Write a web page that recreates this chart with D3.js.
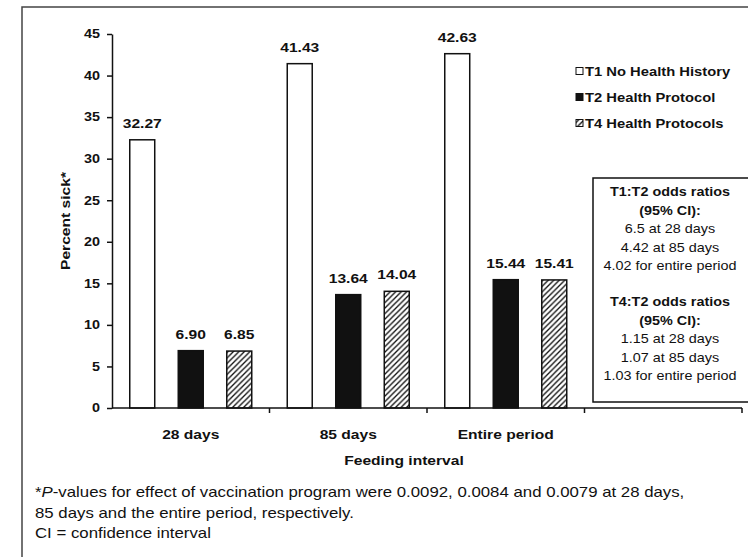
<!DOCTYPE html>
<html lang="en">
<head>
    <meta charset="UTF-8">
    <title>Percent sick by feeding interval</title>
    <style>
        body {
            margin: 0;
            padding: 0;
            background-color: #fff;
        }
        svg text {
            font-family: Arial, 'Liberation Sans', sans-serif;
            fill: #111;
        }
        .bar {
            stroke: #111;
            stroke-width: 1.5;
        }
        .axis path, .axis line {
            stroke: #111;
            stroke-width: 1.5;
        }
    </style>
</head>
<body>
    <div id="chart"></div>

    <script src="https://d3js.org/d3.v7.min.js"></script>
    <script>
        const categories = ["28 days", "85 days", "Entire period"];
        const seriesNames = ["T1 No Health History", "T2 Health Protocol", "T4 Health Protocols"];
        const t1Values = [32.27, 41.43, 42.63];
        const t2Values = [6.90, 13.64, 15.44];
        const t4Values = [6.85, 14.04, 15.41];
        const yTicks = [0, 5, 10, 15, 20, 25, 30, 35, 40, 45];
        const t1t2Lines = ["T1:T2 odds ratios", "(95% CI):", "6.5 at 28 days", "4.42 at 85 days", "4.02 for entire period"];
        const t4t2Lines = ["T4:T2 odds ratios", "(95% CI):", "1.15 at 28 days", "1.07 at 85 days", "1.03 for entire period"];
        const footLines = [
            ["*", "P", "-values for effect of vaccination program were 0.0092, 0.0084 and 0.0079 at 28 days,"],
            ["", "", "85 days and the entire period, respectively."],
            ["", "", "CI = confidence interval"]
        ];

        const W = 748, H = 557;
        const SX = 1.2; // the scanned figure is stretched sideways

        const svg = d3.select("#chart").append("svg")
            .attr("width", W)
            .attr("height", H);

        // hatch for T4
        svg.append("defs").append("pattern")
            .attr("id", "hatch")
            .attr("patternUnits", "userSpaceOnUse")
            .attr("width", 5.5)
            .attr("height", 5.5)
            .call(p => {
                p.append("rect").attr("width", 5.5).attr("height", 5.5).attr("fill", "#fff");
                p.append("path")
                    .attr("d", "M-1,1 L1,-1 M0,5.5 L5.5,0 M4.5,6.5 L6.5,4.5")
                    .attr("stroke", "#111")
                    .attr("stroke-width", 1.3);
            });

        const fills = ["#fff", "#111", "url(#hatch)"];

        function addText(g, x, y, str, opts) {
            const o = Object.assign({ size: 12, weight: "normal", anchor: "start", rotate: 0 }, opts);
            return g.append("text")
                .attr("transform", `translate(${x},${y})` + (o.rotate ? ` rotate(${o.rotate})` : "") + ` scale(${SX},1)`)
                .attr("text-anchor", o.anchor)
                .style("font-size", o.size + "px")
                .style("font-weight", o.weight)
                .text(str);
        }

        // outer frame
        svg.append("rect")
            .attr("x", 22).attr("y", 7)
            .attr("width", 800).attr("height", 600)
            .attr("fill", "none")
            .attr("stroke", "#444")
            .attr("stroke-width", 1.5);

        const plot = { left: 112, right: 742, top: 34, bottom: 408 };

        const x = d3.scaleBand()
            .domain([...categories, ""])
            .range([plot.left, plot.right])
            .padding(0);

        const xs = d3.scaleBand()
            .domain(seriesNames)
            .range([0, x.bandwidth()])
            .paddingInner(0.485)
            .paddingOuter(0.366);

        const y = d3.scaleLinear()
            .domain([0, 45])
            .range([plot.bottom, plot.top]);

        const data = categories.map((c, i) => ({
            cat: c,
            vals: [t1Values[i], t2Values[i], t4Values[i]]
        }));

        // bars
        const groups = svg.selectAll(".grp")
            .data(data)
            .enter().append("g")
            .attr("class", "grp")
            .attr("transform", d => `translate(${x(d.cat)},0)`);

        groups.selectAll(".bar")
            .data(d => d.vals.map((v, k) => ({ name: seriesNames[k], value: v, k: k })))
            .enter().append("rect")
            .attr("class", "bar")
            .attr("x", d => xs(d.name))
            .attr("y", d => y(d.value))
            .attr("width", xs.bandwidth())
            .attr("height", d => y(0) - y(d.value))
            .attr("fill", d => fills[d.k]);

        groups.each(function (d) {
            const g = d3.select(this);
            d.vals.forEach((v, k) => {
                addText(g, xs(seriesNames[k]) + xs.bandwidth() / 2, y(v) - 12, v.toFixed(2),
                    { size: 13, weight: "bold", anchor: "middle" });
            });
        });

        // y axis
        const yAxis = svg.append("g")
            .attr("class", "axis")
            .attr("transform", `translate(${plot.left},0)`)
            .call(d3.axisLeft(y).tickValues(yTicks).tickSize(5).tickPadding(5).tickSizeOuter(0));
        yAxis.selectAll("text")
            .attr("transform", `scale(${SX},1)`)
            .style("font-size", "12px")
            .style("font-weight", "bold")
            .style("font-family", "Arial, 'Liberation Sans', sans-serif")
            .attr("fill", "#111");

        // x axis line and boundary ticks
        const xAxis = svg.append("g").attr("class", "axis");
        xAxis.append("line")
            .attr("x1", plot.left).attr("x2", plot.right)
            .attr("y1", y(0)).attr("y2", y(0));
        x.domain().forEach(c => {
            const bx = x(c) + x.bandwidth();
            xAxis.append("line")
                .attr("x1", bx).attr("x2", bx)
                .attr("y1", y(0)).attr("y2", y(0) + 5);
        });
        categories.forEach(c => {
            addText(svg, x(c) + x.bandwidth() / 2, 439, c, { size: 13, weight: "bold", anchor: "middle" });
        });

        addText(svg, 404, 465, "Feeding interval", { size: 13, weight: "bold", anchor: "middle" });
        addText(svg, 70, (plot.top + plot.bottom) / 2, "Percent sick*", { size: 13, weight: "bold", anchor: "middle", rotate: -90 });

        // legend
        const legend = svg.append("g");
        seriesNames.forEach((s, k) => {
            const cy = 71 + k * 26;
            legend.append("rect")
                .attr("x", 576).attr("y", cy - 3.5)
                .attr("width", 7).attr("height", 7)
                .attr("fill", fills[k])
                .attr("stroke", "#111")
                .attr("stroke-width", 1);
            addText(legend, 585, cy + 4.5, s, { size: 12.3, weight: "bold" });
        });

        // odds ratio box
        const box = svg.append("g");
        box.append("rect")
            .attr("x", 593).attr("y", 178)
            .attr("width", 160).attr("height", 224)
            .attr("fill", "#fff")
            .attr("stroke", "#111")
            .attr("stroke-width", 1.5);
        [[t1t2Lines, 196], [t4t2Lines, 306]].forEach(([lines, y0]) => {
            lines.forEach((ln, i) => {
                addText(box, 670, y0 + i * 18.5, ln, { size: 12, weight: i < 2 ? "bold" : "normal", anchor: "middle" });
            });
        });

        // footnote
        footLines.forEach((parts, i) => {
            const t = svg.append("text")
                .attr("transform", `translate(35,${497 + i * 20.5}) scale(${SX},1)`)
                .style("font-size", "14px");
            t.append("tspan").text(parts[0]);
            t.append("tspan").style("font-style", "italic").text(parts[1]);
            t.append("tspan").text(parts[2]);
        });
    </script>
</body>
</html>
